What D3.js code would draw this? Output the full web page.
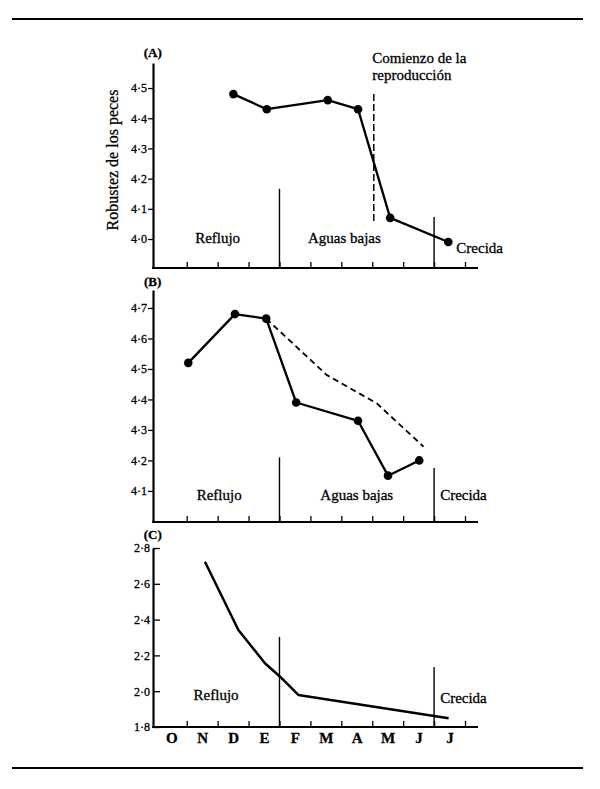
<!DOCTYPE html>
<html><head><meta charset="utf-8">
<script src="https://cdn.jsdelivr.net/npm/d3@7"></script>
<style>
body{margin:0;background:#fff}
text{font-family:"Liberation Serif","DejaVu Serif",serif;fill:#000;stroke:#000;stroke-width:0.3px}
</style>
</head><body>
<svg id="c" width="600" height="789"></svg>
<script>
// ---------- data ----------
const months = ["O","N","D","E","F","M","A","M","J","J"];
const seasons = ["Reflujo","Aguas bajas","Crecida"];
const seasonBreaks = [4, 9];            // month boundaries (E|F and J|J)

// Panel A : robustez (months counted from 1 October)
const aMonth = [2.51, 3.59, 5.56, 6.54, 7.58, 9.46];
const aValue = [4.48, 4.43, 4.46, 4.43, 4.07, 3.99];
const aTicks = [4.0, 4.1, 4.2, 4.3, 4.4, 4.5];
const aTickLabels = ["4·0","4·1","4·2","4·3","4·4","4·5"];
const reproStart = 7.05;
const reproRange = [4.05, 4.48];
const aDividerTop = [4.166, 4.073];

// Panel B
const bMonth = [1.05, 2.56, 3.57, 4.54, 6.54, 7.51, 8.52];
const bValue = [4.52, 4.68, 4.665, 4.39, 4.33, 4.15, 4.20];
const bDashMonth = [3.57, 5.53, 7.15, 8.66];
const bDashValue = [4.665, 4.48, 4.387, 4.245];
const bTicks = [4.1, 4.2, 4.3, 4.4, 4.5, 4.6, 4.7];
const bTickLabels = ["4·1","4·2","4·3","4·4","4·5","4·6","4·7"];
const bDividerTop = [4.21, 4.175];

// Panel C
const cMonth = [1.59, 2.67, 3.53, 4.02, 4.61, 9.47];
const cValue = [2.723, 2.342, 2.156, 2.081, 1.979, 1.849];
const cTicks = [1.8, 2.0, 2.2, 2.4, 2.6, 2.8];
const cTickLabels = ["1·8","2·0","2·2","2·4","2·6","2·8"];
const cDividerTop = [2.303, 2.135];

// ---------- drawing ----------
const svg = d3.select("#c");
svg.append("rect").attr("width",600).attr("height",789).attr("fill","#fff");

// frame rules
svg.append("line").attr("x1",12).attr("x2",583).attr("y1",19).attr("y2",19)
  .attr("stroke","#000").attr("stroke-width",2);
svg.append("line").attr("x1",12).attr("x2",583).attr("y1",768).attr("y2",768)
  .attr("stroke","#000").attr("stroke-width",2);

const x = d3.scaleLinear().domain([0,10]).range([155.8,465]);

function panel(cfg){
  const y = d3.scaleLinear().domain(cfg.domain).range(cfg.range);
  const g = svg.append("g");
  const bottom = cfg.range[0];

  // y axis
  const ya = d3.axisLeft(y).tickValues(cfg.ticks)
    .tickFormat((d,i)=>cfg.tickLabels[i])
    .tickSizeInner(cfg.tickIn ? -7 : 5).tickSizeOuter(0)
    .tickPadding(cfg.tickIn ? 3 : 1);
  const yg = g.append("g").attr("transform",`translate(${x(-0.09)},0)`).call(ya);
  yg.select(".domain").attr("stroke-width",2.2);
  yg.selectAll(".tick line").attr("stroke-width",1.3);
  yg.selectAll(".tick text").style("font-size","12px").style("font-family","'Liberation Serif',serif");

  // x axis (ticks pointing up)
  const xa = d3.axisTop(x).tickValues(d3.range(1,11)).tickFormat("").tickSize(6).tickSizeOuter(0);
  const xg = g.append("g").attr("transform",`translate(0,${bottom})`).call(xa);
  xg.select(".domain").remove();
  xg.selectAll(".tick line").attr("stroke-width",1.3);
  g.append("line").attr("x1",x(-0.12)).attr("x2",x(10.42)).attr("y1",bottom).attr("y2",bottom)
    .attr("stroke","#000").attr("stroke-width",2.2);

  // season dividers
  seasonBreaks.forEach((m,i)=>{
    g.append("line").attr("x1",x(m)).attr("x2",x(m))
      .attr("y1",y(cfg.dividerTop[i])).attr("y2",bottom)
      .attr("stroke","#000").attr("stroke-width",1.4);
  });

  // season labels
  cfg.seasonLabels.forEach(s=>{
    g.append("text").attr("x",x(s.m)).attr("y",bottom - s.dy)
      .attr("text-anchor",s.anchor||"middle").style("font-size","15px").text(seasons[s.i]);
  });

  // panel letter
  g.append("text").attr("x",x(-0.1)).attr("y",cfg.letterY).attr("text-anchor","middle")
    .style("font-size","13px").style("font-weight","bold").text(cfg.letter);

  return {g,y};
}

// ---- Panel A
const A = panel({domain:[3.904,4.583], range:[268,63], ticks:aTicks, tickLabels:aTickLabels,
  dividerTop:aDividerTop, letter:"(A)", letterY:57,
  seasonLabels:[{i:0,m:2.0,dy:25},{i:1,m:6.1,dy:25},{i:2,m:9.72,dy:15,anchor:"start"}]});
// repro dashed line
A.g.append("line").attr("x1",x(reproStart)).attr("x2",x(reproStart))
  .attr("y1",A.y(reproRange[1])).attr("y2",A.y(reproRange[0]))
  .attr("stroke","#000").attr("stroke-width",1.5).attr("stroke-dasharray","7,3");
const ann = A.g.append("text").attr("x",x(reproStart)-1.5).style("font-size","15px");
ann.append("tspan").attr("x",x(reproStart)-1.5).attr("y",63).text("Comienzo de la");
ann.append("tspan").attr("x",x(reproStart)-1.5).attr("y",80).text("reproducción");
const aPts = aMonth.map((m,i)=>[m,aValue[i]]);
A.g.append("path").datum(aPts)
  .attr("d",d3.line().x(d=>x(d[0])).y(d=>A.y(d[1])))
  .attr("fill","none").attr("stroke","#000").attr("stroke-width",2.3).attr("stroke-linejoin","round");
A.g.selectAll("circle").data(aPts).join("circle")
  .attr("cx",d=>x(d[0])).attr("cy",d=>A.y(d[1])).attr("r",4.3).attr("fill","#000");
// y title
svg.append("text").attr("transform","translate(118,160) rotate(-90)")
  .attr("text-anchor","middle").style("font-size","16px").text("Robustez de los peces");

// ---- Panel B
const B = panel({domain:[3.998,4.759], range:[522,290], ticks:bTicks, tickLabels:bTickLabels,
  dividerTop:bDividerTop, letter:"(B)", letterY:286,
  seasonLabels:[{i:0,m:2.05,dy:22},{i:1,m:6.5,dy:22},{i:2,m:9.95,dy:22}]});
const bDash = bDashMonth.map((m,i)=>[m,bDashValue[i]]);
B.g.append("path").datum(bDash)
  .attr("d",d3.line().x(d=>x(d[0])).y(d=>B.y(d[1])))
  .attr("fill","none").attr("stroke","#000").attr("stroke-width",1.8).attr("stroke-dasharray","6,4");
const bPts = bMonth.map((m,i)=>[m,bValue[i]]);
B.g.append("path").datum(bPts)
  .attr("d",d3.line().x(d=>x(d[0])).y(d=>B.y(d[1])))
  .attr("fill","none").attr("stroke","#000").attr("stroke-width",2.3).attr("stroke-linejoin","round");
B.g.selectAll("circle").data(bPts).join("circle")
  .attr("cx",d=>x(d[0])).attr("cy",d=>B.y(d[1])).attr("r",4.3).attr("fill","#000");

// ---- Panel C
const C = panel({domain:[1.8,2.8], range:[727,548], ticks:cTicks, tickLabels:cTickLabels, tickIn:true,
  dividerTop:cDividerTop, letter:"(C)", letterY:539,
  seasonLabels:[{i:0,m:1.95,dy:27},{i:2,m:9.95,dy:24}]});
const cPts = cMonth.map((m,i)=>[m,cValue[i]]);
C.g.append("path").datum(cPts)
  .attr("d",d3.line().x(d=>x(d[0])).y(d=>C.y(d[1])))
  .attr("fill","none").attr("stroke","#000").attr("stroke-width",2.5).attr("stroke-linejoin","round");
// month labels
const ma = d3.axisBottom(x).tickValues(d3.range(10).map(i=>i+0.5))
  .tickFormat((d,i)=>months[i]).tickSize(0).tickPadding(5);
const mg = svg.append("g").attr("transform","translate(0,727)").call(ma);
mg.select(".domain").remove();
mg.selectAll(".tick text").style("font-size","15px").style("font-weight","bold")
  .style("font-family","'Liberation Serif',serif");
</script>
</body></html>
